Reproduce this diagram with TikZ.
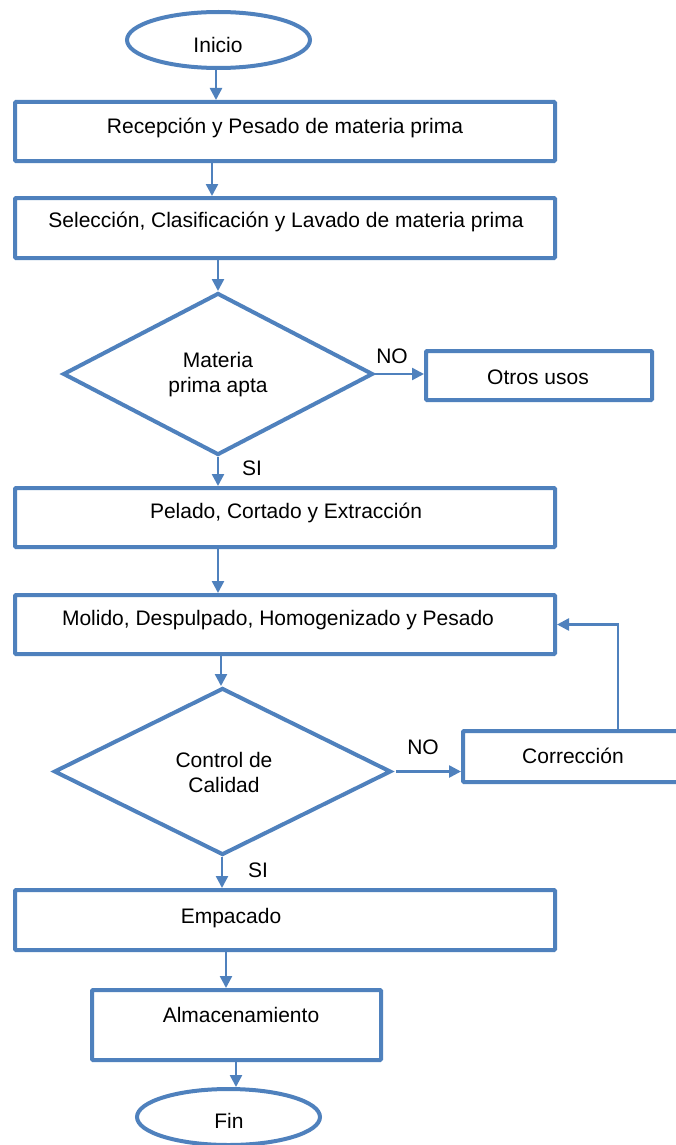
\documentclass[tikz,border=0pt]{standalone}
\usepackage{fontspec}
\setmainfont{Liberation Sans}
\usetikzlibrary{arrows.meta,shapes.geometric}
\definecolor{flowblue}{HTML}{4F81BD}
\begin{document}
\begin{tikzpicture}[x=1pt,y=-1pt,
  font=\fontsize{21}{25}\selectfont,
  stepbox/.style={draw=flowblue,line width=4pt,rounded corners=1pt,inner sep=0pt},
  terminal/.style={draw=flowblue,line width=4pt,ellipse,inner sep=0pt,minimum width=183pt,minimum height=56pt},
  decision/.style={draw=flowblue,line width=4pt,diamond,inner sep=0pt,align=center},
  txt/.style={inner sep=0pt,align=center},
  arr/.style={draw=flowblue,line width=2.5pt,-{Triangle[length=12pt,width=12pt]}}]
\useasboundingbox (0,0) rectangle (676,1145);
\fill[white] (0,0) rectangle (676,1145);

% terminals
\node[terminal] (inicio) at (218.5,40) {};
\node[txt] (tinicio) at (218,45) {Inicio};
\node[terminal] (fin) at (228.5,1117) {};
\node[txt] (tfin) at (229,1121) {Fin};

% process boxes
\node[stepbox,minimum width=540pt,minimum height=59pt] (recep) at (285,131.5) {};
\node[txt] (trecep) at (285,128) {Recepción y Pesado de materia prima};
\node[stepbox,minimum width=540pt,minimum height=60pt] (selec) at (285,228) {};
\node[txt] (tselec) at (286,222) {Selección, Clasificación y Lavado de materia prima};
\node[stepbox,minimum width=540pt,minimum height=59pt] (pelado) at (285,517.5) {};
\node[txt] (tpelado) at (286,513) {Pelado, Cortado y Extracción};
\node[stepbox,minimum width=540pt,minimum height=59pt] (molido) at (285,624.5) {};
\node[txt] (tmolido) at (278,620) {Molido, Despulpado, Homogenizado y Pesado};
\node[stepbox,minimum width=540pt,minimum height=60pt] (empac) at (285,920) {};
\node[txt] (tempac) at (231,918) {Empacado};
\node[stepbox,minimum width=289pt,minimum height=70pt] (almac) at (236.5,1025) {};
\node[txt] (talmac) at (241,1015) {Almacenamiento};
\node[stepbox,minimum width=226pt,minimum height=49pt] (otros) at (539,375.5) {};
\node[txt] (totros) at (538,377) {Otros usos};
\node[stepbox,minimum width=240pt,minimum height=51pt] (correc) at (583,756.5) {};
\node[txt] (tcorrec) at (573,756) {Corrección};

% decisions
\node[decision,minimum width=310pt,minimum height=162pt] (apta) at (218,374) {};
\node[txt] (tapta) at (218,375) {Materia\\prima apta};
\node[decision,minimum width=337pt,minimum height=167pt] (calidad) at (222.5,771.5) {};
\node[txt] (tcalidad) at (224,772) {Control de\\Calidad};

% branch labels
\node[txt] (no1) at (392,356) {NO};
\node[txt] (si1) at (252,468) {SI};
\node[txt] (no2) at (423,747) {NO};
\node[txt] (si2) at (258,870) {SI};

% connectors
\draw[arr] (inicio.south -| 216,0) -- (recep.north -| 216,0);
\draw[arr] (recep.south -| 212,0) -- (selec.north -| 212,0);
\draw[arr] (selec.south -| 218,0) -- (apta.north);
\draw[arr] (apta.east) -- (otros.west |- apta.east);
\draw[arr] (apta.south) -- (pelado.north -| apta.south);
\draw[arr] (pelado.south -| 218,0) -- (molido.north -| 218,0);
\draw[arr] (molido.south -| 221,0) -- (calidad.north -| 221,0);
\draw[arr,shorten <=3pt] (calidad.east) -- (correc.west |- calidad.east);
\draw[arr] (calidad.south -| 222,0) -- (empac.north -| 222,0);
\draw[arr] (empac.south -| 226,0) -- (almac.north -| 226,0);
\draw[arr] (almac.south -| 236,0) -- (fin.north -| 236,0);
\draw[arr] (correc.north -| 618,0) |- (molido.east);
\end{tikzpicture}
\end{document}
